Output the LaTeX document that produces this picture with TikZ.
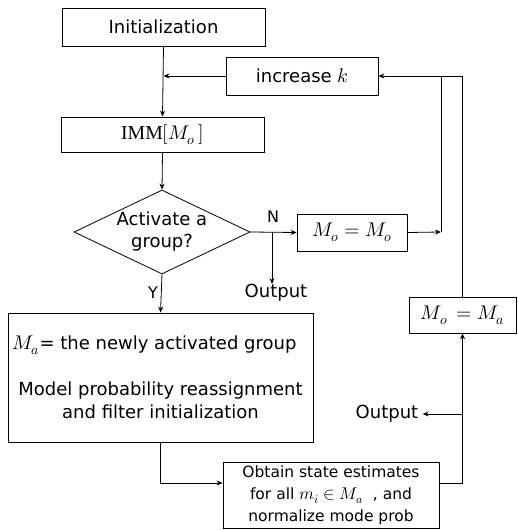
\documentclass[tikz,border=0pt]{standalone}
\usepackage{fontspec}
\usepackage{unicode-math}
\setmainfont{DejaVu Sans}
\setmathfont{Latin Modern Math}[Scale=1.1]
\newfontfamily\immfont{Liberation Serif}[Scale=1.1]
\usetikzlibrary{shapes.geometric,arrows.meta}

\begin{document}
\begin{tikzpicture}[x=1pt,y=-1pt,line width=0.8pt,>={Stealth[length=6pt,width=5pt]},
        block/.style={draw,rectangle,inner sep=0pt,align=center,font=\fontsize{18}{23}\selectfont},
        choice/.style={draw,diamond,aspect=2.1,inner sep=0pt,align=center,font=\fontsize{18}{22}\selectfont},
        txt/.style={inner sep=0pt,font=\fontsize{18}{22}\selectfont}]
        \useasboundingbox (0,0) rectangle (517,530);
        % boxes
        \node[block,minimum width=203pt,minimum height=38pt] (init) at (163.5,27) {Initialization};
        \node[block,minimum width=152pt,minimum height=38pt] (inck) at (302,76) {increase $k$};
        \node[block,minimum width=203pt,minimum height=35pt] (imm) at (162.5,134.5) {{\immfont IMM}$[M_o\,]$};
        \node[choice,minimum width=176pt,minimum height=84pt] (act) at (162,232) {Activate a\\group?};
        \node[block,minimum width=110pt,minimum height=37pt] (mooo) at (352,232.5) {$M_o = M_o$};
        \node[block,minimum width=107pt,minimum height=36pt] (moma) at (462.5,315) {$M_o\, = M_a$};
        \node[block,minimum width=305pt,minimum height=129pt] (big) at (160.5,377.5)
            {$M_a$= the newly activated group\hspace*{12pt}\\[23pt]Model probability reassignment\\and filter initialization};
        \node[block,minimum width=216pt,minimum height=66pt,font=\fontsize{15.5}{22}\selectfont] (obt) at (331,495)
            {Obtain state estimates\\for all $m_i \in M_a$ \ , and\\normalize mode prob};
        \node[txt] (outa) at (276,293) {Output};
        \node[txt] (outb) at (387,414) {Output};
        \node[txt,font=\fontsize{16}{18}\selectfont] (lbln) at (273,217) {N};
        \node[txt,font=\fontsize{16}{18}\selectfont] (lbly) at (153,293) {Y};
        \coordinate (nb) at (272,232);
        \coordinate (rb) at (441,232);
        % connectors
        \draw[->] (init.south) -- (imm.north);
        \draw[->] (inck.west) -- (inck.west -| init.south);
        \draw[->] (imm.south) -- (act.north);
        \draw[->] (act.east) -- (mooo.west);
        \draw[->] (nb) -- (nb |- outa.north);
        \draw[->] (mooo.east) -- (rb);
        \draw (rb) -- (rb |- inck.east);
        \draw[->] (moma.north) |- (inck.east);
        \draw[->] (act.south) -- (big.north);
        \draw[->] (big.south) |- ([yshift=12pt]obt.west);
        \draw[->] ([yshift=12pt]obt.east) -| (moma.south);
        \draw[->] (moma.south |- outb.east) -- ([xshift=4pt]outb.east);
\end{tikzpicture}
\end{document}
